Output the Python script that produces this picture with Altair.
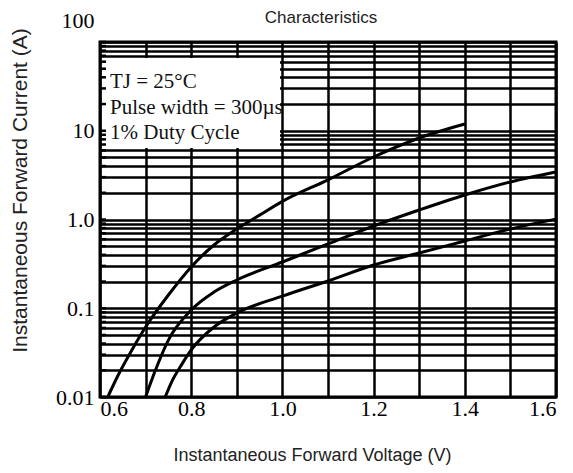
import altair as alt
import pandas as pd

# ---- data ----
volt_a = [0.617, 0.64, 0.67, 0.70, 0.75, 0.80, 0.85, 0.90, 0.95, 1.00, 1.10, 1.20, 1.30, 1.40]
curr_a = [0.01, 0.0177, 0.0339, 0.0615, 0.141, 0.292, 0.516, 0.782, 1.12, 1.60, 2.80, 5.06, 8.28, 11.9]

volt_b = [0.70, 0.72, 0.75, 0.80, 0.85, 0.90, 1.00, 1.10, 1.20, 1.30, 1.40, 1.50, 1.60]
curr_b = [0.01, 0.0191, 0.0438, 0.0955, 0.152, 0.208, 0.332, 0.53, 0.845, 1.28, 1.89, 2.65, 3.43]

volt_c = [0.743, 0.758, 0.78, 0.80, 0.85, 0.90, 1.00, 1.10, 1.20, 1.30, 1.40, 1.50, 1.60]
curr_c = [0.01, 0.0151, 0.0236, 0.0339, 0.0615, 0.0883, 0.137, 0.203, 0.307, 0.42, 0.573, 0.782, 1.01]

x_grid = [0.6, 0.7, 0.8, 0.9, 1.0, 1.1, 1.2, 1.3, 1.4, 1.5, 1.6]
x_label_values = [0.6, 0.8, 1.0, 1.2, 1.4, 1.6]
x_label_texts = ["0.6", "0.8", "1.0", "1.2", "1.4", "1.6"]

y_decades = [0.01, 0.1, 1, 10]
y_label_values = [0.01, 0.1, 1, 10, 100]
y_label_texts = ["0.01", "0.1", "1.0", "10", "100"]

legend_lines = ["TJ = 25°C", "Pulse width = 300µs", "1% Duty Cycle"]
chart_title = "Characteristics"
x_title = "Instantaneous Forward Voltage (V)"
y_title = "Instantaneous Forward Current (A)"

# ---- build tables ----
y_grid = [round(m * d, 6) for d in y_decades for m in range(1, 10)] + [100]

curves = pd.concat([
    pd.DataFrame({"V": volt_a, "I": curr_a, "curve": "a"}),
    pd.DataFrame({"V": volt_b, "I": curr_b, "curve": "b"}),
    pd.DataFrame({"V": volt_c, "I": curr_c, "curve": "c"}),
])

def label_expr(values, texts):
    parts = "".join(f"abs(datum.value - {v}) < {v * 1e-4} ? '{t}' : " for v, t in zip(values, texts))
    return parts + "''"

x_scale = alt.Scale(domain=[0.6, 1.6], nice=False, zero=False)
y_scale = alt.Scale(type="log", domain=[0.01, 100], nice=False)

x_axis = alt.Axis(
    values=x_grid, labelExpr=label_expr(x_label_values, x_label_texts),
    grid=True, gridColor="black", gridWidth=2.5, gridOpacity=1,
    domain=False, ticks=False, labelOverlap=False,
    labelFont="Liberation Serif", labelFontSize=22, labelColor="black", labelPadding=1,
    title=x_title, titleFont="Liberation Sans", titleFontSize=18, titleFontWeight="normal",
    titleColor="#222", titleX=212, titleY=58, titleBaseline="middle", titleAlign="center",
)
y_axis = alt.Axis(
    values=y_grid, labelExpr=label_expr(y_label_values, y_label_texts),
    grid=True, gridColor="black", gridWidth=2.5, gridOpacity=1,
    domain=False, ticks=False, labelOverlap=False,
    labelFont="Liberation Serif", labelFontSize=22, labelColor="black", labelPadding=6,
    labelBaseline="middle",
    labelOffset={"condition": {"test": "datum.value >= 99", "value": -22}, "value": 0},
    title=y_title, titleFont="Liberation Sans", titleFontSize=21, titleFontWeight="normal",
    titleColor="#222", titleX=-80, titleY=148, titleBaseline="middle", titleAlign="center",
    titleAngle=270,
)

base_df = pd.DataFrame({"V": [0.6], "I": [0.01]})

# axes carrier (draws grid and labels)
axes_layer = alt.Chart(base_df).mark_point(opacity=0).encode(
    x=alt.X("V:Q", scale=x_scale, axis=x_axis),
    y=alt.Y("I:Q", scale=y_scale, axis=y_axis),
)

# white legend box masking the grid
box = alt.Chart(base_df).mark_rect(color="white").encode(
    x=alt.value(2), x2=alt.value(180), y=alt.value(16), y2=alt.value(106)
)

# short inward ticks on the left edge
tick_df = pd.DataFrame({"I": y_grid})
ticks = alt.Chart(tick_df).mark_rule(color="black", strokeWidth=2.5).encode(
    y=alt.Y("I:Q", scale=y_scale), x=alt.value(0), x2=alt.value(6)
)

lines = alt.Chart(curves).mark_line(color="black", strokeWidth=3, interpolate="monotone").encode(
    x=alt.X("V:Q", scale=x_scale),
    y=alt.Y("I:Q", scale=y_scale),
    detail="curve:N",
)

legend_layers = []
for i, line in enumerate(legend_lines):
    legend_layers.append(
        alt.Chart(pd.DataFrame({"t": [line]})).mark_text(
            font="Liberation Serif", fontSize=21, align="left", baseline="middle", color="#111"
        ).encode(text="t:N", x=alt.value(10), y=alt.value(40 + 25.5 * i))
    )

title_df = pd.DataFrame({"t": [chart_title]})
title_text = alt.Chart(title_df).mark_text(
    font="Liberation Sans", fontSize=17, align="center", baseline="top", color="#222"
).encode(text="t:N", x=alt.value(221), y=alt.value(-32))

chart = alt.layer(axes_layer, box, ticks, lines, *legend_layers, title_text).properties(
    width=456, height=355,
    autosize=alt.AutoSizeParams(type="none"),
    padding={"left": 92, "top": 34, "right": 9, "bottom": 68},
).configure_view(stroke="black", strokeWidth=3)

chart.save("out.html", embed_options={"renderer": "svg", "actions": False})
